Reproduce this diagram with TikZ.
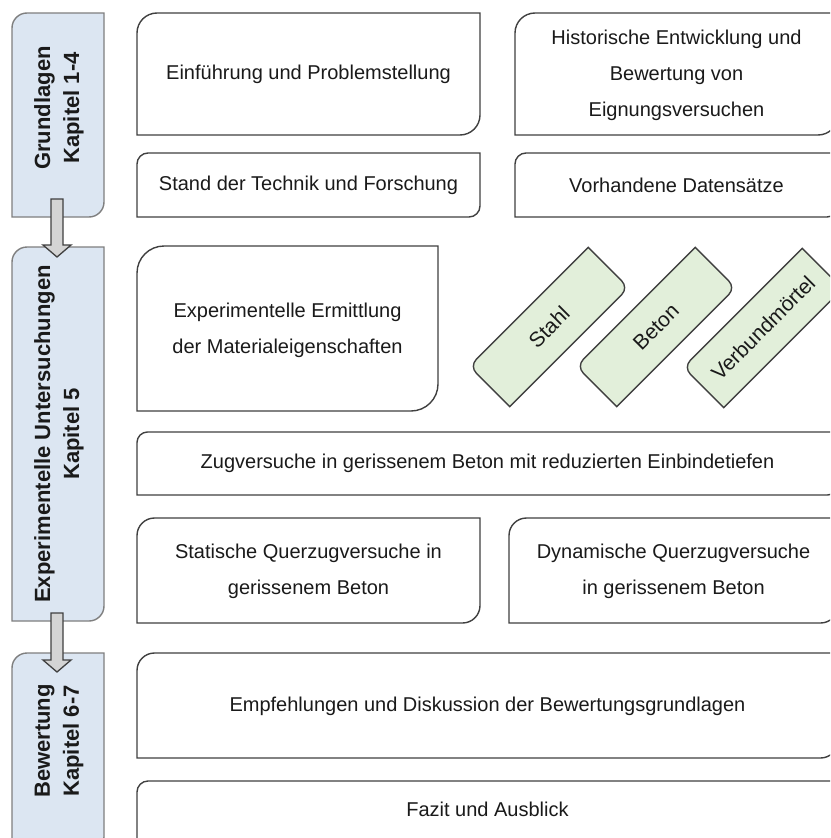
\documentclass[tikz,border=0pt]{standalone}
\usepackage{fontspec}
\setmainfont{Liberation Sans}
\definecolor{tabfill}{HTML}{DCE6F2}
\definecolor{tabline}{HTML}{7F7F7F}
\definecolor{greenfill}{HTML}{E2EFDA}
\definecolor{boxline}{HTML}{404040}
\definecolor{arrowfill}{HTML}{D4D4D4}
\definecolor{txtcol}{HTML}{1A1A1A}
% outline with rounded top-left and bottom-right corners
\newcommand{\rdoutline}[6]{% #1 style, #2 left, #3 top, #4 right, #5 bottom, #6 radius
  \draw[#1] ({#2+#6},{-#3}) -- ({#4},{-#3}) -- ({#4},{-#5+#6})
    arc[start angle=0,end angle=-90,radius=#6] -- ({#2},{-#5}) -- ({#2},{-#3-#6})
    arc[start angle=180,end angle=90,radius=#6] -- cycle;
}
\tikzset{
  boxstyle/.style={draw=boxline, line width=1.4pt, fill=white},
  tabstyle/.style={draw=tabline, line width=1.4pt, fill=tabfill},
  greenstyle/.style={draw=boxline, line width=1.4pt, fill=greenfill},
  arrowstyle/.style={draw=boxline, line width=1.3pt, fill=arrowfill, line join=miter},
  txt/.style={text=txtcol, align=center, font=\fontsize{20}{36}\selectfont, inner sep=0pt},
  greentxt/.style={text=txtcol, align=center, font=\fontsize{21}{25}\selectfont, inner sep=0pt, rotate=45},
  tabtxt/.style={text=txtcol, align=center, font=\bfseries\fontsize{22}{29}\selectfont, rotate=90, inner sep=0pt},
}
\begin{document}
\begin{tikzpicture}[x=1pt,y=1pt]
\useasboundingbox (0,0) rectangle (830,-838);
\fill[white] (0,0) rectangle (830,-838);
\clip (0,0) rectangle (830,-838);

% ---- left tabs ----
\rdoutline{tabstyle}{12}{13}{104}{217}{15}
\rdoutline{tabstyle}{12}{247}{104}{621}{15}
\rdoutline{tabstyle}{12}{653}{104}{852}{15}
\node[tabtxt] (tab1) at (59,-108) {Grundlagen\\Kapitel 1-4};
\node[tabtxt] (tab2) at (59,-434) {Experimentelle Untersuchungen\\Kapitel 5};
\node[tabtxt] (tab3) at (59,-741) {Bewertung\\Kapitel 6-7};

% ---- block arrows between tabs ----
\coordinate (a1top) at (57,-199);
\coordinate (a2top) at (57,-613);
\draw[arrowstyle] (a1top) ++(-6,0) -- ++(12,0) -- ++(0,-46) -- ++(8,0) -- ++(-14,-12) -- ++(-14,12) -- ++(8,0) -- cycle;
\draw[arrowstyle] (a2top) ++(-6,0) -- ++(12,0) -- ++(0,-47) -- ++(8,0) -- ++(-14,-12) -- ++(-14,12) -- ++(8,0) -- cycle;

% ---- Grundlagen boxes ----
\rdoutline{boxstyle}{137}{13}{480}{135}{20}
\node[txt] (einf) at (308.5,-74) {Einführung und Problemstellung};
\rdoutline{boxstyle}{515}{13}{838}{135}{20}
\node[txt] (hist) at (676.5,-75) {Historische Entwicklung und\\Bewertung von\\Eignungsversuchen};
\rdoutline{boxstyle}{137}{153}{480}{217}{11}
\node[txt] (stand) at (308.5,-185) {Stand der Technik und Forschung};
\rdoutline{boxstyle}{515}{153}{838}{217}{11}
\node[txt] (vorh) at (676.5,-185) {Vorhandene Datensätze};

% ---- Experimentelle Untersuchungen ----
\rdoutline{boxstyle}{137}{246}{438}{411}{27}
\node[txt] (mat) at (287.5,-330) {Experimentelle Ermittlung\\der Materialeigenschaften};

\begin{scope}[shift={(549,-327)}, rotate=45, shift={(-84,28.5)}]
  \rdoutline{greenstyle}{0}{0}{168}{57}{9.5}
\end{scope}
\begin{scope}[shift={(656,-327)}, rotate=45, shift={(-84,28.5)}]
  \rdoutline{greenstyle}{0}{0}{168}{57}{9.5}
\end{scope}
\begin{scope}[shift={(763,-328)}, rotate=45, shift={(-84,28.5)}]
  \rdoutline{greenstyle}{0}{0}{168}{57}{9.5}
\end{scope}
\node[greentxt] (stahl) at (549,-327) {Stahl};
\node[greentxt] (beton) at (656,-327) {Beton};
\node[greentxt] (verb) at (763,-328) {Verbundmörtel};

\rdoutline{boxstyle}{137}{432}{838}{495}{10.5}
\node[txt] (zug) at (487.5,-463) {Zugversuche in gerissenem Beton mit reduzierten Einbindetiefen};

\rdoutline{boxstyle}{137}{518}{480}{623}{17.5}
\node[txt] (stat) at (308.5,-571) {Statische Querzugversuche in\\gerissenem Beton};
\rdoutline{boxstyle}{509}{518}{838}{623}{17.5}
\node[txt] (dyn) at (673.5,-571) {Dynamische Querzugversuche\\in gerissenem Beton};

% ---- Bewertung ----
\rdoutline{boxstyle}{137}{653}{838}{758}{17.5}
\node[txt] (empf) at (487.5,-706) {Empfehlungen und Diskussion der Bewertungsgrundlagen};
\rdoutline{boxstyle}{137}{781}{838}{848}{11}
\node[txt] (fazit) at (487.5,-809) {Fazit und Ausblick};
\end{tikzpicture}
\end{document}
